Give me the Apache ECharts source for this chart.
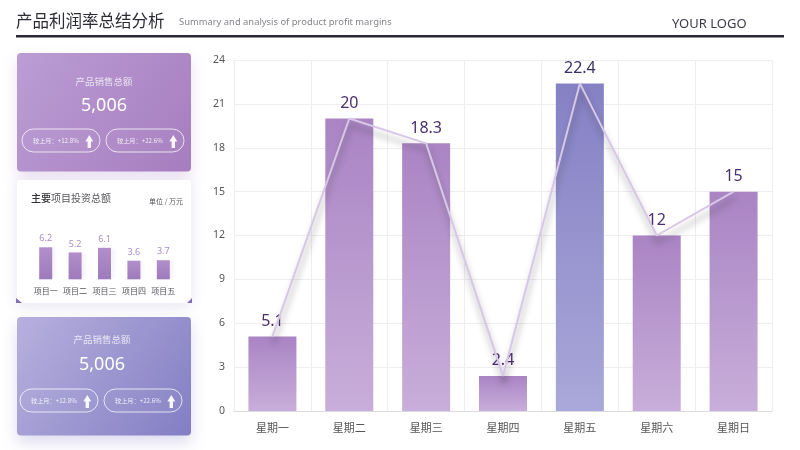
<!DOCTYPE html>
<html><head><meta charset="utf-8">
<style>html,body{margin:0;padding:0;background:#fff}#c{width:800px;height:450px}</style>
<script src="https://cdn.jsdelivr.net/npm/echarts@6/dist/echarts.min.js"></script></head>
<body><div id="c"></div>
<script>
const weekdays = ['星期一','星期二','星期三','星期四','星期五','星期六','星期日'];
const profitRates = [5.1,20,18.3,2.4,22.4,12,15];
const highlightDay = '星期五';
const projects = ['项目一','项目二','项目三','项目四','项目五'];
const investments = [6.2,5.2,6.1,3.6,3.7];
const yTicks = {min:0,max:24,interval:3};
const titleText = '产品利润率总结分析';
const subtitleText = 'Summary and analysis of product profit margins';
const logoText = 'YOUR LOGO';
const cardTitle = '产品销售总额';
const cardValue = '5,006';
const compareA = '较上月：+12.8%';
const compareB = '较上月：+22.6%';

const FONT = '"Noto Sans CJK SC","Noto Sans",sans-serif';
const LATIN = '"Noto Sans","Noto Sans CJK SC",sans-serif';
const vgrad = (a,b)=>new echarts.graphic.LinearGradient(0,0,0,1,[{offset:0,color:a},{offset:1,color:b}]);
const dgrad = (a,b)=>new echarts.graphic.LinearGradient(0,0,1,1,[{offset:0,color:a},{offset:1,color:b}]);
const txt = (x,y,text,size,fill,align='left',family=FONT,extra={})=>({type:'text',x,y,z:1,style:Object.assign({text,fontSize:size,fill,fontFamily:family,align,verticalAlign:'middle'},extra)});

function pill(x,y,label){
  return [
    {type:'rect',z:1,shape:{x,y,width:78,height:23,r:11.5},style:{fill:'rgba(255,255,255,0.03)',stroke:'rgba(255,255,255,0.75)',lineWidth:1}},
    txt(x+11,y+11.5,label,6.2,'rgba(255,255,255,0.85)'),
    {type:'polygon',z:1,shape:{points:[[x+67.3,y+6],[x+71.3,y+12.5],[x+69,y+12.5],[x+69,y+19],[x+65.6,y+19],[x+65.6,y+12.5],[x+63.3,y+12.5]]},style:{fill:'rgba(255,255,255,0.92)'}}
  ];
}
function kpi(y,c1,c2,shadow,cx,px,titleDy,valueDy,pillDy){
  return [
    {type:'rect',z:0,shape:{x:17,y,width:174,height:118.5,r:4},style:{fill:dgrad(c1,c2),shadowBlur:16,shadowOffsetY:7,shadowColor:shadow}},
    txt(cx,y+titleDy,cardTitle,9.5,'rgba(255,255,255,0.75)','center'),
    txt(cx,y+valueDy,cardValue,18,'#fff','center',LATIN),
    ...pill(px,y+pillDy,compareA),
    ...pill(px+84,y+pillDy,compareB)
  ];
}

const graphicEls = [
  txt(16,21,titleText,16.5,'#2b2b33'),
  txt(179,22.5,subtitleText,9.4,'#85858c','left',LATIN),
  txt(672,24,logoText,13,'#3a3a46','left',LATIN),
  {type:'rect',z:1,shape:{x:16,y:35,width:768,height:2.4},style:{fill:'#2b2838'}},
  ...kpi(53,'#bb9dd4','#a67dbf','rgba(150,110,190,0.22)',104,22,28,53,76),
  {type:'rect',z:0,shape:{x:17,y:180,width:174,height:123,r:3},style:{fill:'#fff',shadowBlur:14,shadowOffsetY:3,shadowColor:'rgba(130,110,180,0.2)'}},
  {type:'polygon',z:1,shape:{points:[[16,298],[22,303],[16,303]]},style:{fill:'#7e6fb8'}},
  {type:'polygon',z:1,shape:{points:[[192,298],[192,303],[187,303]]},style:{fill:'#7e6fb8'}},
  {type:'text',x:31,y:198,z:1,style:{text:'{b|主要}{n|项目投资总额}',verticalAlign:'middle',fontFamily:FONT,rich:{b:{fontSize:10,fontWeight:500,fill:'#33333a',color:'#33333a',fontFamily:FONT},n:{fontSize:10,fill:'#55555c',color:'#55555c',fontFamily:FONT}}}},
  txt(183,201,'单位 / 万元',7,'#55555c','right'),
  ...kpi(317,'#b7b0de','#837ec3','rgba(120,110,190,0.25)',102,20,22,48,72)
];

const option = {
  animation:false,
  backgroundColor:'#fff',
  graphic:{elements:graphicEls},
  grid:[
    {left:234,top:60,width:538,height:351},
    {left:31,top:238,width:147,height:41.3}
  ],
  xAxis:[
    {type:'category',gridIndex:0,data:weekdays,
     axisLine:{lineStyle:{color:'#dcdae0'}},axisTick:{show:false},
     splitLine:{show:true,lineStyle:{color:'#efedf1'}},
     axisLabel:{color:'#555',fontSize:11,fontFamily:FONT,margin:11}},
    {type:'category',gridIndex:1,data:projects,
     axisLine:{show:false},axisTick:{show:false},splitLine:{show:false},
     axisLabel:{color:'#55555c',fontSize:8,fontFamily:FONT,margin:8,interval:0}}
  ],
  yAxis:[
    {type:'value',gridIndex:0,min:yTicks.min,max:yTicks.max,interval:yTicks.interval,
     axisLine:{show:false},axisTick:{show:false},
     splitLine:{lineStyle:{color:'#efedf1'}},
     axisLabel:{color:'#555',fontSize:10.5,fontFamily:LATIN,margin:9}},
    {type:'value',gridIndex:1,min:0,max:8,show:false,splitLine:{show:false}}
  ],
  series:[
    {type:'bar',xAxisIndex:0,yAxisIndex:0,barWidth:48,z:2,
     data:profitRates.map((v,i)=>({value:v,
       itemStyle:{color:weekdays[i]===highlightDay?vgrad('#8581c4','#aaa7da'):vgrad('#aa84c3','#c8aeda')},
       label:{color:weekdays[i]===highlightDay?'#3a2f68':'#4a2f6c'}})),
     label:{show:true,position:'top',distance:7,fontSize:16,fontFamily:LATIN}},
    {type:'line',xAxisIndex:0,yAxisIndex:0,z:3,data:profitRates,symbol:'none',silent:true,
     lineStyle:{color:'#d7c8e7',width:2,shadowColor:'rgba(50,50,60,0.45)',shadowBlur:6,shadowOffsetY:7,shadowOffsetX:1}},
    {type:'bar',xAxisIndex:1,yAxisIndex:1,barWidth:13,z:2,data:investments,
     itemStyle:{color:vgrad('#b28ecb','#9d7abb'),shadowColor:'rgba(120,90,170,0.07)',shadowBlur:3,shadowOffsetX:4,shadowOffsetY:0},
     label:{show:true,position:'top',distance:4,fontSize:9,color:'#a98bc9',fontFamily:LATIN}}
  ]
};
echarts.init(document.getElementById('c')).setOption(option);
</script></body></html>
